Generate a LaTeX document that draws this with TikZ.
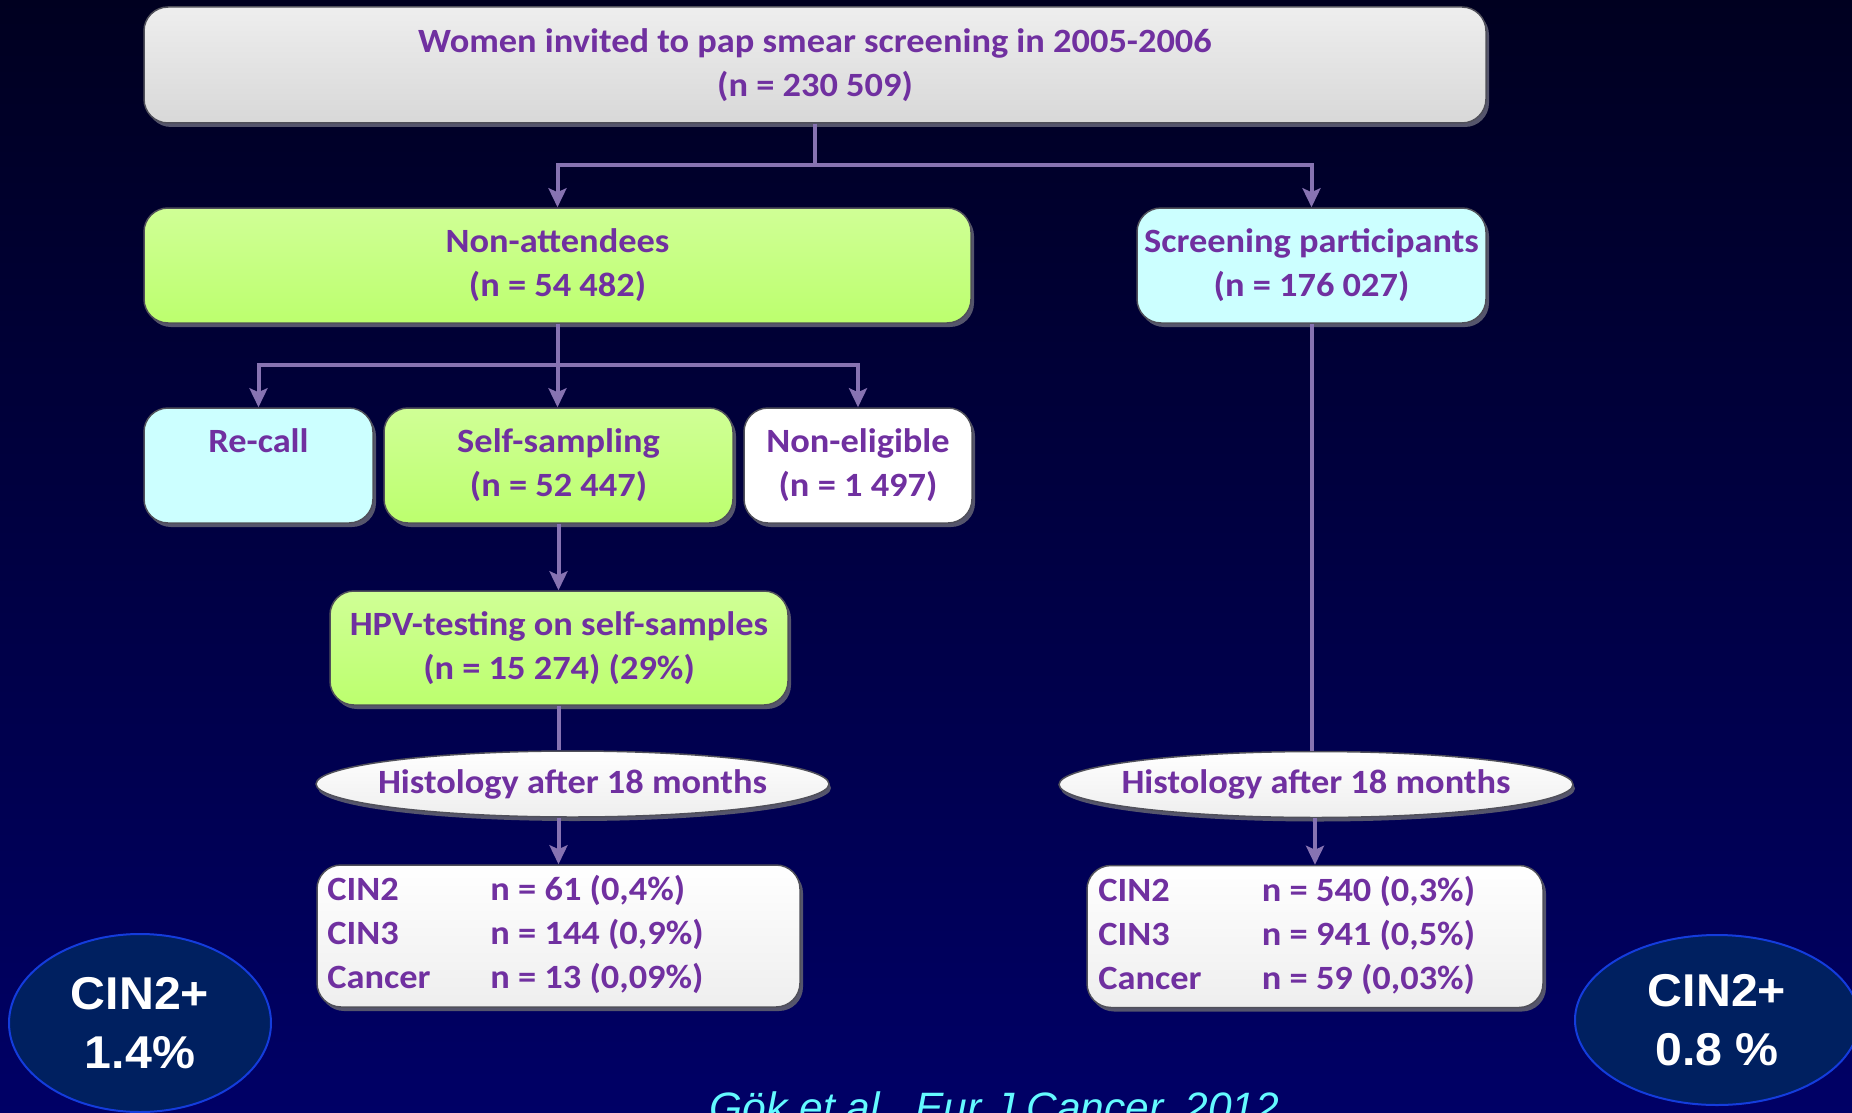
\documentclass[tikz,border=0pt]{standalone}
\usepackage{fontspec}
\setmainfont{Carlito}[FakeStretch=1.07]
\newfontfamily\arialfont{Liberation Sans}[FakeStretch=1.05]
\newfontfamily\citefont{Liberation Sans}
\usetikzlibrary{shapes.geometric,shadows,arrows.meta}

\definecolor{txtpurple}{RGB}{112,48,160}
\definecolor{conncol}{RGB}{135,115,178}
\definecolor{bgtop}{RGB}{0,0,32}
\definecolor{bgbot}{RGB}{0,0,102}
\definecolor{greentop}{RGB}{208,255,150}
\definecolor{greenbot}{RGB}{188,255,110}
\definecolor{cyanbox}{RGB}{204,255,255}
\definecolor{greytop}{RGB}{238,238,238}
\definecolor{greybot}{RGB}{216,216,216}
\definecolor{boxborder}{RGB}{80,80,90}
\definecolor{shadowcol}{RGB}{85,85,108}
\definecolor{circfill}{RGB}{0,32,96}
\definecolor{circline}{RGB}{20,60,220}
\definecolor{citecol}{RGB}{100,250,255}

\begin{document}
\begin{tikzpicture}[x=1pt,y=-1pt,
  txt/.style={text=txtpurple, font=\fontsize{34}{44}\selectfont\bfseries},
  box/.style={txt, rectangle, rounded corners=24pt, draw=boxborder, line width=1.5pt,
    inner sep=0pt, align=center,
    drop shadow={shadow xshift=3pt, shadow yshift=-4pt, fill=shadowcol, opacity=1}},
  greybox/.style={box, top color=greytop, bottom color=greybot},
  greenbox/.style={box, top color=greentop, bottom color=greenbot},
  cyanbx/.style={box, fill=cyanbox},
  whitebx/.style={box, fill=white},
  resbox/.style={box, top color=white, bottom color=greytop},
  histell/.style={txt, ellipse, draw=boxborder, line width=1.5pt, inner sep=0pt,
    top color=white, bottom color=greytop,
    drop shadow={shadow xshift=2pt, shadow yshift=-4pt, fill=shadowcol, opacity=1}},
  circ/.style={ellipse, draw=circline, line width=2pt, fill=circfill, inner sep=0pt,
    align=center, text=white, font=\arialfont\bfseries\fontsize{46}{59}\selectfont},
  conn/.style={draw=conncol, line width=4pt},
  arr/.style={conn, -{Stealth[length=19pt,width=18pt,inset=4pt]}}
]
\useasboundingbox (0,0) rectangle (1852,1113);
\shade[top color=bgtop, bottom color=bgbot] (0,0) rectangle (1852,1113);

% boxes
\node[greybox, minimum width=1342pt, minimum height=116pt] (top) at (815,65)
  {Women invited to pap smear screening in 2005-2006\\(n = 230 509)};
\node[greenbox, minimum width=827pt, minimum height=115pt] (nonatt) at (557.5,265.5)
  {Non-attendees\\(n = 54 482)};
\node[cyanbx, minimum width=349pt, minimum height=115pt] (part) at (1311.5,265.5)
  {Screening participants\\(n = 176 027)};
\node[cyanbx, minimum width=229pt, minimum height=115pt] (recall) at (258.5,465.5)
  {Re-call\\\phantom{(n = 1)}};
\node[greenbox, minimum width=349pt, minimum height=115pt] (self) at (558.5,465.5)
  {Self-sampling\\(n = 52 447)};
\node[whitebx, minimum width=228pt, minimum height=115pt] (noneli) at (858,465.5)
  {Non-eligible\\(n = 1 497)};
\node[greenbox, minimum width=458pt, minimum height=114pt] (hpv) at (559,648)
  {HPV-testing on self-samples\\(n = 15 274) (29\%)};

\node[histell, minimum width=513pt, minimum height=66pt] (histL) at (572.5,784)
  {\makebox[0pt]{Histology after 18 months}};
\node[histell, minimum width=514pt, minimum height=66pt] (histR) at (1316,784.5)
  {\makebox[0pt]{Histology after 18 months}};

\node[resbox, minimum width=483pt, minimum height=142pt] (resL) at (558.5,936) {};
\node[txt, anchor=west, inner sep=0pt] (resLtxt) at ([xshift=11pt]resL.west)
  {\begin{tabular}{@{}p{163pt}@{}l@{}}CIN2 & n = 61 (0,4\%)\\CIN3 & n = 144 (0,9\%)\\Cancer & n = 13 (0,09\%)\end{tabular}};
\node[resbox, minimum width=456pt, minimum height=142pt] (resR) at (1315,936.5) {};
\node[txt, anchor=west, inner sep=0pt] (resRtxt) at ([xshift=12pt]resR.west)
  {\begin{tabular}{@{}p{163.5pt}@{}l@{}}CIN2 & n = 540 (0,3\%)\\CIN3 & n = 941 (0,5\%)\\Cancer & n = 59 (0,03\%)\end{tabular}};

% summary ellipses
\node[circ, minimum width=262pt, minimum height=178pt] (cL) at (140,1023) {CIN2+\\1.4\%};
\node[circ, minimum width=284pt, minimum height=170pt] (cR) at (1717,1020) {CIN2+\\0.8 \%};

% citation
\node[anchor=base, inner sep=0pt, text=citecol, font=\citefont\itshape\fontsize{42.5}{50}\selectfont]
  (cite) at (994.5,1122) {Gök et al., Eur J Cancer, 2012};

% connectors
\draw[arr] (top.south) -- ++(0,41) -| (nonatt.north);
\draw[arr] (top.south) -- ++(0,41) -| (part.north);
\draw[arr] (nonatt.south) -- ++(0,41) -| (recall.north);
\draw[arr] (nonatt.south) -- (nonatt.south |- self.north);
\draw[arr] (nonatt.south) -- ++(0,41) -| (noneli.north);
\draw[arr] (self.south) -- (self.south |- hpv.north);
\draw[conn] (hpv.south) -- (hpv.south |- histL.north);
\draw[arr] (resL.north |- histL.south) -- (resL.north);
\draw[conn] (part.south) -- (part.south |- histR.north);
\draw[arr] (resR.north |- histR.south) -- (resR.north);
\end{tikzpicture}
\end{document}
